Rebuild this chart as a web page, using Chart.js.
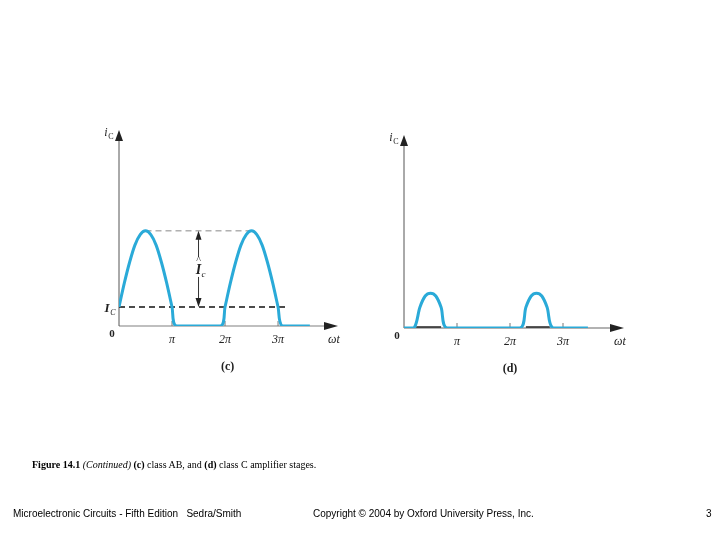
<!DOCTYPE html>
<html>
<head>
<meta charset="utf-8">
<script src="https://cdn.jsdelivr.net/npm/chart.js@4"></script>
<style>
  body { margin: 0; width: 720px; height: 540px; background: #fff; position: relative; overflow: hidden; }
  canvas { position: absolute; left: 0; top: 0; }
  .txt { position: absolute; white-space: nowrap; }
  .cap { font-family: "Liberation Serif", serif; font-size: 10px; top: 459px; left: 32px; }
  .foot { font-family: "Liberation Sans", Arial, sans-serif; font-size: 10px; top: 508px; }
</style>
</head>
<body>
<canvas id="chartC" width="720" height="540"></canvas>
<canvas id="chartD" width="720" height="540"></canvas>
<div class="txt cap"><b>Figure 14.1</b> <i>(Continued)</i> <b>(c)</b> class AB, and <b>(d)</b> class C amplifier stages.</div>
<div class="txt foot" style="left:13px">Microelectronic Circuits - Fifth Edition &nbsp;&nbsp;Sedra/Smith</div>
<div class="txt foot" style="left:313px">Copyright © 2004 by Oxford University Press, Inc.</div>
<div class="txt foot" style="left:706px">3</div>
<script>
// x in multiples of pi, y in units of the class AB peak
const abX = [0, 0.1, 0.2, 0.3, 0.4, 0.5, 0.6, 0.7, 0.8, 0.9, 1.0, 1.08, 1.92, 2.0, 2.1, 2.2, 2.3, 2.4, 2.5, 2.6, 2.7, 2.8, 2.9, 3.0, 3.08, 3.6];
const abY = [0.2, 0.45, 0.67, 0.85, 0.96, 1.0, 0.96, 0.85, 0.67, 0.45, 0.2, 0, 0, 0.2, 0.45, 0.67, 0.85, 0.96, 1.0, 0.96, 0.85, 0.67, 0.45, 0.2, 0, 0];
const cX = [0, 0.19, 0.3, 0.4, 0.5, 0.6, 0.7, 0.81, 2.19, 2.3, 2.4, 2.5, 2.6, 2.7, 2.81, 3.47];
const cY = [0, 0, 0.22, 0.34, 0.37, 0.34, 0.22, 0, 0, 0.22, 0.34, 0.37, 0.34, 0.22, 0, 0];
const tickVals = [1, 2, 3];
const tickLabels = ['π', '2π', '3π'];
const biasLevel = 0.2;
const peakLevel = 1.0;
const blue = '#2aaad8';

const serif = '"Liberation Serif", serif';

function arrowHead(ctx, x, y, dir) {
  ctx.beginPath();
  if (dir === 'up') { ctx.moveTo(x, y); ctx.lineTo(x - 4, y + 11); ctx.lineTo(x + 4, y + 11); }
  else if (dir === 'down') { ctx.moveTo(x, y); ctx.lineTo(x - 3, y - 9); ctx.lineTo(x + 3, y - 9); }
  else { ctx.moveTo(x, y); ctx.lineTo(x - 14, y - 4); ctx.lineTo(x - 14, y + 4); }
  ctx.closePath();
  ctx.fill();
}

function makeAxesPlugin(opts) {
  return {
    id: 'axes' + opts.name,
    beforeDatasetsDraw(chart) {
      const ctx = chart.ctx;
      const xs = chart.scales.x, ys = chart.scales.y;
      const x0 = xs.getPixelForValue(0), y0 = ys.getPixelForValue(0);
      const a = chart.chartArea;
      ctx.save();
      // horizontal axis
      ctx.strokeStyle = opts.name === 'c' ? '#aaa' : '#999';
      ctx.lineWidth = 1.5;
      ctx.beginPath(); ctx.moveTo(x0, y0); ctx.lineTo(a.right - 4, y0); ctx.stroke();
      ctx.fillStyle = '#222';
      arrowHead(ctx, a.right + 8, y0, 'right');
      // vertical axis
      ctx.strokeStyle = '#555';
      ctx.lineWidth = 1;
      ctx.beginPath(); ctx.moveTo(x0, y0); ctx.lineTo(x0, a.top + 4); ctx.stroke();
      arrowHead(ctx, x0, a.top, 'up');
      // tick marks and labels
      ctx.strokeStyle = '#777';
      ctx.font = 'italic 12px ' + serif;
      ctx.fillStyle = '#222';
      ctx.textAlign = 'center';
      tickVals.forEach((v, i) => {
        const px = xs.getPixelForValue(v);
        ctx.beginPath(); ctx.moveTo(px, y0); ctx.lineTo(px, y0 - 5); ctx.stroke();
        ctx.fillText(tickLabels[i], px, y0 + 17);
      });
      ctx.font = 'bold 11px ' + serif;
      ctx.fillText('0', x0 - 7, y0 + 11);
      ctx.font = 'italic 12px ' + serif;
      ctx.fillText('ωt', a.right + 4, y0 + 17);
      ctx.fillText('i', x0 - 13, a.top + 6);
      ctx.font = '8px ' + serif;
      ctx.fillText('C', x0 - 8, a.top + 9);
      ctx.font = 'bold 12px ' + serif;
      ctx.fillText(opts.label, xs.getPixelForValue(opts.labelX), y0 + 44);

      if (opts.name === 'c') {
        const yb = ys.getPixelForValue(biasLevel), yp = ys.getPixelForValue(peakLevel);
        ctx.setLineDash([6, 4]);
        ctx.strokeStyle = '#111'; ctx.lineWidth = 1.5;
        ctx.beginPath(); ctx.moveTo(x0, yb); ctx.lineTo(xs.getPixelForValue(3.15), yb); ctx.stroke();
        ctx.strokeStyle = '#888'; ctx.lineWidth = 1;
        ctx.beginPath(); ctx.moveTo(xs.getPixelForValue(0.5), yp); ctx.lineTo(xs.getPixelForValue(2.5), yp); ctx.stroke();
        ctx.setLineDash([]);
        const xa = xs.getPixelForValue(1.5);
        ctx.strokeStyle = '#333';
        ctx.beginPath(); ctx.moveTo(xa, yp + 2); ctx.lineTo(xa, yb - 2); ctx.stroke();
        arrowHead(ctx, xa, yb, 'down');
        ctx.beginPath(); ctx.moveTo(xa, yp); ctx.lineTo(xa - 3, yp + 9); ctx.lineTo(xa + 3, yp + 9); ctx.closePath(); ctx.fill();
        ctx.fillStyle = '#fff';
        ctx.fillRect(xa - 6, (yb + yp) / 2 - 12, 12, 20);
        ctx.fillStyle = '#222';
        ctx.font = 'italic bold 14px ' + serif;
        ctx.fillText('I', xa, (yb + yp) / 2 + 5);
        ctx.font = 'italic 9px ' + serif;
        ctx.fillText('c', xa + 5, (yb + yp) / 2 + 8);
        ctx.font = '10px ' + serif;
        ctx.fillText('^', xa, (yb + yp) / 2 - 6);
        ctx.font = 'italic bold 13px ' + serif;
        ctx.fillText('I', x0 - 12, yb + 5);
        ctx.font = 'italic 8px ' + serif;
        ctx.fillText('C', x0 - 6, yb + 8);
      } else {
        ctx.strokeStyle = '#222'; ctx.lineWidth = 1.5;
        [[0.23, 0.7], [2.3, 2.75]].forEach(s => {
          ctx.beginPath(); ctx.moveTo(xs.getPixelForValue(s[0]), y0 - 1); ctx.lineTo(xs.getPixelForValue(s[1]), y0 - 1); ctx.stroke();
        });
      }
      ctx.restore();
    }
  };
}

function makeChart(id, xs, ys, pad, xMax, yMax, opts) {
  new Chart(document.getElementById(id), {
    type: 'line',
    data: {
      datasets: [{
        data: xs.map((x, i) => ({ x: x, y: ys[i] })),
        borderColor: blue,
        borderWidth: 3,
        pointRadius: 0,
        tension: 0.3,
        fill: false
      }]
    },
    options: {
      responsive: false,
      animation: false,
      layout: { padding: pad },
      plugins: { legend: { display: false }, tooltip: { enabled: false } },
      scales: {
        x: { type: 'linear', min: 0, max: xMax, display: false },
        y: { min: 0, max: yMax, display: false }
      }
    },
    plugins: [makeAxesPlugin(opts)]
  });
}

makeChart('chartC', abX, abY, { left: 119, right: 390, top: 130, bottom: 214 }, 3.98, 2.06, { name: 'c', label: '(c)', labelX: 2.05 });
makeChart('chartD', cX, cY, { left: 404, right: 104, top: 135, bottom: 212 }, 4.0, 2.05, { name: 'd', label: '(d)', labelX: 2.0 });
</script>
</body>
</html>
